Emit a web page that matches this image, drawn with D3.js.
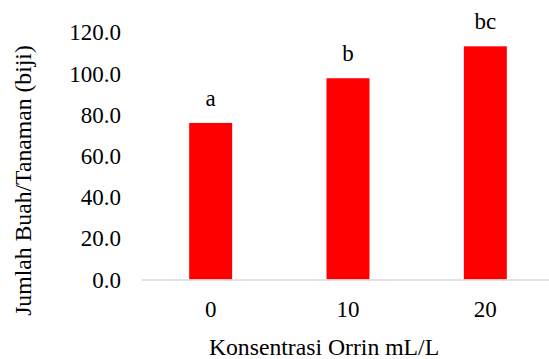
<!DOCTYPE html>
<meta charset="utf-8">
<style>
	body { margin: 0; background: #fff; }
	svg text { font-family: "Liberation Serif", "Times New Roman", serif; fill: #000; }
</style>

<svg width="549" height="359"></svg>
<script src="https://d3js.org/d3.v7.min.js"></script>

<script>
	// data
	var categories = ["0", "10", "20"];
	var values = [76.0, 97.7, 113.2];
	var letters = ["a", "b", "bc"];
	var yTicks = [0, 20, 40, 60, 80, 100, 120];

	var serif = "'Liberation Serif', 'Times New Roman', serif";
	var svg = d3.select("svg");

	// plot area
	var x = d3.scaleBand().domain(categories).range([142, 554])
	    .paddingInner(0.687).paddingOuter(0.3435);
	var y = d3.scaleLinear().domain([0, 120]).range([279.5, 32.3]);

	// y axis labels
	svg.append("g")
	    .attr("transform", "translate(121,0)")
	    .call(d3.axisLeft(y).tickValues(yTicks).tickFormat(d3.format(".1f")).tickSize(0).tickPadding(0))
	    .attr("font-family", serif)
	    .call(function(g) { g.select(".domain").remove(); })
	    .selectAll("text")
	      .attr("font-size", "23px")
	      .attr("dy", "0.33em")
	      .style("font-family", serif)
	      .attr("fill", "#000");

	// bars
	svg.selectAll(".bar")
	  .data(values)
	  .enter().append("rect")
	    .attr("class", "bar")
	    .attr("x", function(d, i) { return x(categories[i]); })
	    .attr("y", function(d) { return y(d); })
	    .attr("width", x.bandwidth())
	    .attr("height", function(d) { return y(0) - y(d); })
	    .attr("fill", "#ff0000");

	// x axis line
	svg.append("line")
	    .attr("x1", x.range()[0]).attr("x2", x.range()[1])
	    .attr("y1", y(0) + 0.5).attr("y2", y(0) + 0.5)
	    .attr("stroke", "#d9d9d9")
	    .attr("stroke-width", 1.5);

	// x axis labels
	svg.append("g")
	    .attr("transform", "translate(0," + y(0) + ")")
	    .call(d3.axisBottom(x).tickSize(0).tickPadding(0))
	    .attr("font-family", serif)
	    .call(function(g) { g.select(".domain").remove(); })
	    .selectAll("text")
	      .attr("font-size", "23px")
	      .attr("dy", "37px")
	      .attr("y", 0)
	      .style("font-family", serif)
	      .attr("fill", "#000");

	// significance letters
	svg.selectAll(".lbl")
	  .data(values)
	  .enter().append("text")
	    .attr("class", "lbl")
	    .attr("x", function(d, i) { return x(categories[i]) + x.bandwidth() / 2; })
	    .attr("y", function(d) { return y(d) - 17; })
	    .attr("text-anchor", "middle")
	    .attr("font-size", "23px")
	    .text(function(d, i) { return letters[i]; });

	// axis titles
	svg.append("text")
	    .attr("x", 324)
	    .attr("y", 355)
	    .attr("text-anchor", "middle")
	    .attr("font-size", "23.7px")
	    .text("Konsentrasi Orrin mL/L");

	svg.append("text")
	    .attr("transform", "translate(31,180.5) rotate(-90)")
	    .attr("text-anchor", "middle")
	    .attr("font-size", "23.7px")
	    .text("Jumlah Buah/Tanaman (biji)");
</script>
